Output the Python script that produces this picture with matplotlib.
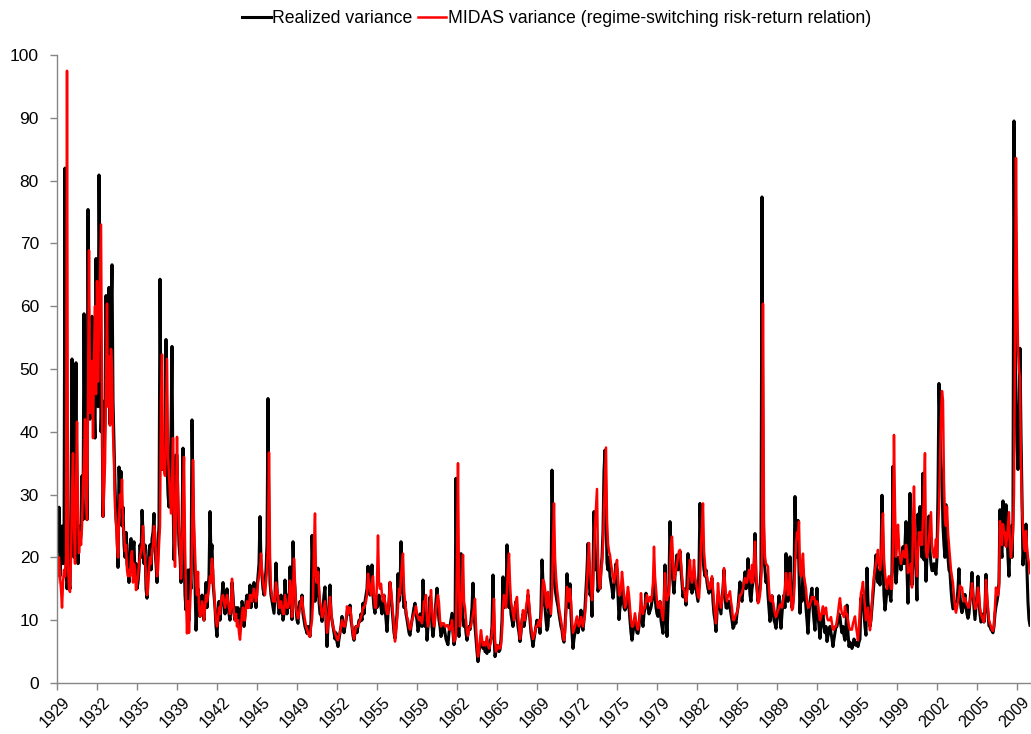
import matplotlib
matplotlib.use("Agg")
import matplotlib.pyplot as plt
import matplotlib.transforms as mtransforms
import numpy as np

plt.rcParams['font.family'] = ['Liberation Sans', 'DejaVu Sans']

# monthly values, jan 1929 .. feb 2010 (one row per year)
realized = [
    24, 21, 28, 17, 22, 25, 19, 20, 82, 18, 15, 17,            # 1929
    16, 15, 30, 51.6, 25, 20, 36, 51, 28, 19, 25, 22,          # 1930
    24, 33, 26, 58.8, 35, 45, 26, 75.4, 44, 42, 50, 58.4,      # 1931
    55.8, 45, 39, 67.6, 50, 44, 80.9, 62, 40, 45, 26.5, 35,    # 1932
    42, 61.7, 50, 45, 63, 41.2, 58, 66.6, 45, 38, 31.5, 26,    # 1933
    24, 18.4, 34.4, 30, 33.7, 25, 28, 22, 20, 24, 19, 18,      # 1934
    16, 22, 23, 18, 21, 22.5, 17, 19, 15, 16, 18, 22,          # 1935
    20, 27.5, 24, 19, 22, 15, 13.5, 18, 21, 22, 18, 23,        # 1936
    24, 27, 21, 19, 16, 22, 25, 64.3, 42, 34, 36, 38,          # 1937
    35, 54.7, 35, 30, 28, 32, 40, 53.6, 30, 19.6, 25, 36.3,    # 1938
    36.3, 28, 22, 20, 16, 24, 37.4, 22, 14, 11.6, 15, 18,      # 1939
    10, 18, 15, 41.9, 30, 21.7, 16, 8.4, 12, 15, 11, 10.6,     # 1940
    12, 14, 11, 10, 13, 16, 12, 15, 17, 27.3, 20, 22,          # 1941
    16, 14, 12, 9, 7.4, 11, 13, 10, 12, 14, 16, 13,            # 1942
    11, 13, 15, 12, 11, 10, 12, 16, 14, 11, 10, 12,            # 1943
    10, 12, 9, 11.6, 10, 13, 12, 9, 11, 13, 14, 12,            # 1944
    13, 15.6, 12, 14, 13, 16, 14, 12, 15, 17, 19, 26.5,        # 1945
    19, 17, 15, 14, 16, 18, 22, 45.3, 24, 16, 14, 13,          # 1946
    12, 11.1, 14, 19.1, 15, 13, 11, 12, 14, 12, 10, 11,        # 1947
    16.4, 13, 11, 14, 12, 18.5, 14, 10.1, 22.5, 17, 15, 12,    # 1948
    10, 9.5, 12, 13, 12, 14, 11, 10, 9, 8.5, 7.9, 9,           # 1949
    8, 7.4, 10, 23.5, 18, 15, 13, 14, 16, 18.3, 13, 11,        # 1950
    11, 9.8, 12, 14, 15.3, 10, 5.8, 9, 12, 15.6, 11, 10,       # 1951
    9, 8, 7, 8, 6.5, 5.8, 7, 8, 9, 10.6, 9, 8,                 # 1952
    9, 10, 11, 12, 11, 12.4, 10, 9, 7.5, 6.8, 8, 9,            # 1953
    8, 9, 10, 9.8, 11, 10, 12.7, 11, 13, 14, 15, 18.6,         # 1954
    15, 14, 16, 18.8, 14, 12, 11.1, 13, 12, 12.7, 14, 13,      # 1955
    12, 11, 13, 14, 12, 10, 8.2, 11, 13, 16, 14, 12,           # 1956
    10, 8, 7.1, 9, 11, 17.4, 13, 15, 22.5, 16, 14, 12,         # 1957
    13, 11, 10.1, 9, 8, 7.6, 9, 10, 11, 12, 12.7, 11,          # 1958
    10, 8.2, 9, 11, 10, 9, 16.4, 12, 9, 11, 6.8, 9,            # 1959
    11, 13.7, 12, 9, 7.4, 9, 11, 13, 15.1, 12, 10, 9,          # 1960
    7.4, 8, 9, 9, 8, 7, 6.5, 6.1, 8, 9, 10, 11.1,              # 1961
    8, 6.1, 7, 32.6, 14, 9, 7.4, 12, 20.6, 13, 10, 9,          # 1962
    10, 8, 6.8, 8, 9, 8.5, 10, 12, 15.9, 11, 9, 7,             # 1963
    5, 3.4, 5, 6, 7, 6.5, 5.5, 6, 5, 5, 4.7, 6,                # 1964
    5, 6.8, 7, 9, 17.2, 8, 4.2, 5, 6, 5.5, 5, 5.3,             # 1965
    7, 10, 16.9, 12, 14, 13, 22, 16, 12, 14, 11, 10,           # 1966
    9, 10, 12, 13, 11, 9, 8, 6.6, 8, 10, 11, 9,                # 1967
    10, 11, 12, 14, 12, 10, 8, 7, 5.8, 7, 8, 9,                # 1968
    10, 9, 10, 7.9, 12, 19.6, 16, 13, 12, 10, 8.4, 9,          # 1969
    12, 10.6, 14, 33.9, 22, 17, 15, 14, 13, 12.2, 11, 10,      # 1970
    9, 8.4, 7, 6.5, 9, 12, 17.4, 14, 12, 15.8, 11, 8,          # 1971
    5.5, 7, 8, 9, 10, 8, 9, 10, 11.6, 9, 8.4, 10,              # 1972
    12, 15, 18, 22.2, 17, 14, 15, 10.6, 18, 27.3, 22, 18,      # 1973
    20, 14.6, 16, 15, 18, 20, 24, 33.7, 37.1, 28, 19.1, 18,    # 1974
    20, 17, 16, 15, 13.5, 15, 17, 19, 18, 14, 10.1, 12,        # 1975
    13, 15, 14, 12, 11.6, 12, 13, 14, 12, 10, 8, 6.8,          # 1976
    8, 9, 10, 9, 8, 7.9, 9, 11, 12, 10, 9, 11,                 # 1977
    12, 14.3, 13, 12, 11, 11.5, 12, 13, 14, 16.9, 14, 12,      # 1978
    11, 10.6, 12, 13, 10, 9, 7.9, 12, 18.8, 11, 7.4, 12,       # 1979
    16, 25.7, 20, 18, 16, 14.3, 17, 19, 20.4, 18, 20, 21,      # 1980
    18, 16, 13.7, 15, 14, 12.4, 16, 20.6, 17, 15, 16, 14.3,    # 1981
    15, 17, 16, 15, 14, 13, 18, 28.6, 22, 24.9, 20, 18,        # 1982
    17, 18, 16, 15, 14.3, 15, 16, 16.7, 13, 11, 10, 8.2,       # 1983
    11, 14, 13, 12, 11, 13.7, 15, 18, 14, 12, 11.9, 13,        # 1984
    13, 12, 11, 10, 8.7, 9, 10, 9.5, 11, 12, 14, 16.1,         # 1985
    14, 13, 15, 16, 17.7, 15, 16, 19.8, 17, 14, 13, 15,        # 1986
    16, 18, 23.8, 17, 15, 13, 14, 15, 18, 77.4, 32, 20,        # 1987
    18, 16, 17, 14, 12, 9.8, 11, 13.9, 12, 10, 9.5, 8.7,       # 1988
    10, 12, 13.9, 11, 8.7, 11, 13, 14, 12, 20.6, 15, 13,       # 1989
    14, 20.1, 15, 12, 13, 16, 29.7, 22, 20, 25.9, 18, 11.1,    # 1990
    15, 13, 18, 16, 14.3, 12, 10, 7.9, 11, 13, 14, 15.1,       # 1991
    12, 10, 8.4, 12, 15.1, 11, 9, 7.1, 9, 10, 11, 9,           # 1992
    8, 9, 6.6, 7.5, 8.5, 9, 8, 7, 5.8, 7, 8, 9,                # 1993
    9, 10, 11, 10.5, 9, 8, 9, 7.5, 6.8, 9, 12.4, 8,            # 1994
    5.8, 6.5, 6, 5.5, 6, 7, 6.5, 6, 6.5, 5.8, 6.5, 7,          # 1995
    13.5, 12, 14, 11, 9, 7.6, 18.3, 13, 11, 9, 10, 12,         # 1996
    14, 16, 18, 20.4, 17, 16, 18, 15.6, 20, 29.9, 20, 14,      # 1997
    11.6, 13, 15, 14.3, 16, 14, 13, 18, 34.5, 24, 18, 15.9,    # 1998
    18, 20, 19, 20.1, 18, 20, 21.7, 19, 22, 25.7, 18, 12.7,    # 1999
    22, 30.2, 18, 15.6, 20, 25, 22, 18, 13.2, 26.9, 22, 28.1,  # 2000
    24, 20, 33.4, 19.6, 22, 16.2, 20, 22, 26.6, 21, 19, 17.9,  # 2001
    17.9, 19, 18, 17.3, 20, 30, 47.7, 40, 35, 32.2, 25, 22,    # 2002
    20, 28.4, 24, 20, 18, 17.6, 15, 13, 11.8, 12, 13, 12.9,    # 2003
    13, 15, 18.2, 14, 12, 11.2, 12, 13, 14.1, 12, 11, 10.3,    # 2004
    11, 13, 15, 17.6, 14, 12, 10.1, 12, 14, 17, 13, 11,        # 2005
    9.7, 10, 11, 9.7, 12, 17.3, 13, 11, 9.1, 9, 8.5, 8.3,      # 2006
    8, 9, 11, 12.2, 13, 14, 16, 27.6, 22, 20, 29, 24,          # 2007
    22, 28.4, 24, 20, 17, 22, 25, 20, 26, 89.5, 60, 45,        # 2008
    38, 34, 42, 53.3, 40, 30, 18.8, 22, 20, 25.3, 18, 12.9,    # 2009
    10.1, 9.2,                                                 # 2010
]

midas = [
    16, 19, 20, 17, 15, 12, 16, 18, 17, 20, 97.5, 19,          # 1929
    15, 14.5, 20, 30, 36.6, 25, 19, 30, 41.6, 28, 20.7, 24,    # 1930
    22, 25, 32, 35, 42, 30, 26, 45, 68.9, 43, 48, 51.3,        # 1931
    39, 52, 60, 46, 64, 48, 56, 65, 73, 45, 26.5, 30,          # 1932
    35, 48, 60.4, 44, 52, 41, 53.2, 50, 40, 35, 28, 25.9,      # 1933
    22, 20, 26, 30, 28, 32.4, 25, 24, 21, 22, 18, 17,          # 1934
    18, 17, 20, 21, 16, 19, 18, 14.8, 16, 17, 19, 20,          # 1935
    21, 22, 25, 21, 20, 17, 14, 15, 18, 20, 19, 21,            # 1936
    22, 25, 24, 20, 17, 18, 22, 25, 45, 52.3, 34, 34,          # 1937
    33, 42, 51.6, 36, 33, 30, 27, 32, 39, 25, 18.5, 28,        # 1938
    39.2, 30, 25, 22, 16.6, 20, 30, 36, 22, 14, 7.9, 13,       # 1939
    8, 12, 16, 22, 35.5, 25, 20.9, 15.9, 14, 17.7, 12, 10.6,   # 1940
    11, 13, 12, 10, 12, 14, 13, 14, 15, 17, 16, 19.8,          # 1941
    18, 15, 12, 10, 9, 10, 12, 11, 13, 13.7, 14, 13,           # 1942
    12, 13, 14, 13, 12, 11, 12, 16.6, 13, 11, 10, 11,          # 1943
    9, 10, 8, 6.9, 9, 11, 12, 10, 10, 12, 13, 12,              # 1944
    12, 14, 14, 13, 14, 15, 14, 13, 14, 16, 17, 18,            # 1945
    20.6, 18, 16, 15, 14, 16, 18, 22, 36.7, 20, 15, 14,        # 1946
    13, 13, 13, 16, 15, 14, 12, 12, 13, 12, 11, 11,            # 1947
    14, 13, 12, 12, 12.7, 16.3, 15, 10.5, 14, 19.8, 16, 12,    # 1948
    11, 10.3, 11, 12, 13, 13.7, 12, 11, 10, 9, 8.5, 8,         # 1949
    7.5, 7.4, 9, 10, 13, 22, 27, 17, 16, 17.7, 15, 13,         # 1950
    12, 10.5, 11, 12, 13, 11, 8, 9, 11, 13.7, 12, 10,          # 1951
    9, 8.5, 8, 7.5, 7, 6.8, 7.5, 8, 9, 10, 9.5, 9,             # 1952
    9, 10, 12.2, 11, 12, 12, 11, 9, 8, 7, 8, 9,                # 1953
    9, 9, 9.5, 10, 10.5, 11, 12, 12, 12.5, 13, 14, 17.4,       # 1954
    16, 15, 14, 16, 17, 14, 12, 12, 16, 23.5, 16, 15,          # 1955
    15.8, 14, 13, 14, 13, 12, 11, 11, 13, 16.1, 15, 13,        # 1956
    11, 9, 6.6, 8, 10, 12, 15, 14, 17, 19, 20.6, 15,           # 1957
    13, 11.6, 10.5, 10, 9, 8.5, 9, 10, 10.5, 11, 11.5, 12.2,   # 1958
    11, 10.5, 10, 10.5, 10, 9.5, 11, 13, 13, 14, 10, 9,        # 1959
    10, 12, 14.8, 12, 10, 9, 10, 12, 13, 14, 12.7, 10,         # 1960
    9, 9.5, 9.5, 9.5, 9, 9, 9.2, 9.2, 8.5, 8.5, 9, 10,         # 1961
    8, 6.6, 7, 8, 20, 35, 15, 9, 11, 16, 20.4, 13,             # 1962
    12, 10, 8, 7.5, 8.5, 9, 9, 10, 11, 12, 13.4, 9,            # 1963
    6, 4.2, 5, 7, 8.4, 7, 6, 6.5, 6, 6.5, 7.4, 6,              # 1964
    5.5, 6, 6.5, 8, 10, 13.4, 7, 5, 5.5, 6, 5.5, 5.5,          # 1965
    6, 8, 12.2, 14, 13, 12, 15, 18, 20.6, 16, 13, 12,          # 1966
    11, 10, 12, 13, 13.7, 11, 9, 7, 8, 10, 11.6, 10,           # 1967
    10, 12, 13, 14.8, 13, 11, 9, 8, 7, 7.5, 8, 9,              # 1968
    9, 9.5, 10, 9, 10, 13, 16.4, 16.1, 15, 13, 12, 14.5,       # 1969
    13, 12, 11, 14, 22, 28.6, 20, 17, 15, 13.7, 12, 11,        # 1970
    10, 9, 7.5, 6.8, 8, 11, 15.3, 14, 13, 15, 13, 10,          # 1971
    8, 8.5, 9, 10, 10.6, 9.5, 9, 9.5, 10.5, 10, 9, 10,         # 1972
    11, 13, 16, 19, 22.3, 18, 16, 13.2, 15, 20, 25, 28,        # 1973
    30.9, 20, 16, 15, 17.5, 19, 22, 27, 32, 37.5, 26, 22.2,    # 1974
    21, 20.4, 19, 18, 17, 16, 17, 18, 19.6, 17, 14, 14,        # 1975
    15, 17.7, 16, 14, 12, 12.5, 14, 15.3, 14, 12, 10, 9,       # 1976
    9, 10, 11.1, 10, 9, 8.5, 9.5, 11, 14.3, 12, 11, 12,        # 1977
    12, 13, 14, 13, 13, 13.7, 13, 14, 16, 21.7, 17, 15,        # 1978
    13, 12, 12, 13, 12, 11, 10, 13, 17.5, 15, 13.2, 14,        # 1979
    14, 18, 22, 23.3, 20, 16.4, 17, 18, 19, 20, 21, 21.2,      # 1980
    19, 17, 15, 15, 14, 13, 14, 16, 18, 19.6, 17, 16,          # 1981
    17, 19.6, 17, 16, 15, 14, 13.5, 16, 22, 25, 28.6, 21,      # 1982
    19, 17, 17, 16, 15, 15, 16, 17, 15, 13, 11, 9.5,           # 1983
    12, 15.9, 14, 13, 12, 13, 15, 18.3, 16, 14, 13, 14,        # 1984
    14, 14.6, 13, 12, 10.1, 10, 10.5, 11, 11.1, 12, 13, 14,    # 1985
    14, 14.5, 15, 16, 16.7, 16, 16, 17, 18, 17, 16, 18.8,      # 1986
    16, 19, 22.5, 18, 15, 12.7, 13, 14, 16, 20, 60.4, 25,      # 1987
    20.1, 19, 18.8, 18.5, 15, 13.2, 13, 13.9, 13, 12, 11, 10.5,  # 1988
    11, 11.5, 12, 12.5, 12.5, 12, 13, 14, 15, 17.5, 16, 14,    # 1989
    15, 17.5, 14, 11.6, 12, 14, 18, 22, 24, 23, 25.7, 18,      # 1990
    17, 19, 20.6, 17, 16, 15, 13, 12.2, 12, 12.5, 13, 13.7,    # 1991
    13.5, 13.7, 13, 12.5, 13, 12.5, 11, 10, 10.5, 11.5, 12.2, 11,  # 1992
    11, 12, 10.5, 10, 10, 10, 10.5, 9.5, 8.5, 8.5, 9, 9,       # 1993
    10, 11, 12.5, 13.5, 12, 11, 11, 10.5, 12.2, 11, 11, 10,    # 1994
    9, 8.5, 8.5, 8.5, 9.5, 10, 10.6, 9, 8, 6.8, 9, 12,         # 1995
    14.3, 15, 16.1, 14, 12, 10, 11, 12, 10, 8.4, 10, 13,       # 1996
    15.3, 17, 18, 19, 20, 21.2, 19, 18, 19, 24, 27, 20,        # 1997
    17.5, 16, 15, 16.4, 17, 16, 15, 15, 22, 39.5, 28, 20.1,    # 1998
    22, 25.2, 22, 20, 19, 20, 21, 20.5, 20, 22, 21, 17.5,      # 1999
    18, 17.9, 19, 15.2, 25, 31.3, 24, 20, 17, 20, 24, 22,      # 2000
    24, 22, 26, 30, 36.6, 21.1, 20, 21, 23, 25, 27.2, 22,      # 2001
    21, 20, 21, 22.9, 20, 24, 28, 35, 42, 46.5, 45, 32,        # 2002
    26, 25, 28.1, 24, 22, 20.2, 18, 17, 15.9, 14, 12, 11.2,    # 2003
    12, 13, 14, 15.5, 15, 15.2, 14, 13, 13.5, 13, 12.5, 12.2,  # 2004
    12, 13, 14, 15.9, 14.5, 13, 11.8, 12, 13, 15.2, 14, 12,    # 2005
    11, 10.5, 10, 9.7, 12, 16.4, 14, 12, 10, 9.5, 9, 8.5,      # 2006
    8.3, 9, 12, 15.2, 14, 14, 15, 25.8, 24, 22, 25.3, 24,      # 2007
    24, 21.7, 23, 25, 27.2, 22, 20, 22, 24, 30, 55, 83.6,      # 2008
    65, 53.3, 50, 48.6, 35.3, 28, 24.7, 22, 21, 24.2, 21.7, 20,  # 2009
    19, 17.5,                                                  # 2010
]

tick_labels = ['1929', '1932', '1935', '1939', '1942', '1945', '1949', '1952',
               '1955', '1959', '1962', '1965', '1969', '1972', '1975', '1979',
               '1982', '1985', '1989', '1992', '1995', '1999', '2002', '2005',
               '2009']
tick_step = 40  # months between labels

months = np.arange(len(realized))

fig = plt.figure(figsize=(10.31, 7.34), dpi=100)
ax = fig.add_axes([0.0553, 0.0695, 0.9437, 0.8555])

l1, = ax.plot(months, realized, color='black', lw=2.2, label='Realized variance')
l2, = ax.plot(np.arange(len(midas)), midas, color='#ff0000', lw=1.8,
              label='MIDAS variance (regime-switching risk-return relation)')

ax.set_xlim(0, len(realized) - 1)
ax.set_ylim(0, 100)
ax.set_yticks(np.arange(0, 101, 10))
ax.set_xticks(np.arange(len(tick_labels)) * tick_step)
ax.set_xticklabels(tick_labels, rotation=45, ha='right', va='top',
                   rotation_mode='anchor')

for s in ['top', 'right']:
    ax.spines[s].set_visible(False)
for s in ['left', 'bottom']:
    ax.spines[s].set_color('#868686')
    ax.spines[s].set_linewidth(1.0)
ax.tick_params(axis='both', direction='out', length=5, color='#868686',
               width=1.0)
ax.tick_params(axis='y', pad=8, labelsize=12.5)
ax.tick_params(axis='x', pad=3, labelsize=11.5)

# nudge the rotated year labels a bit to the right, like the original
shift = mtransforms.ScaledTranslation(5 / 100, 0, fig.dpi_scale_trans)
for lab in ax.get_xticklabels():
    lab.set_transform(lab.get_transform() + shift)

fig.legend(handles=[l1, l2], loc='upper center', bbox_to_anchor=(0.54, 1.008),
           ncol=2, frameon=False, fontsize=12.7, handlelength=1.6,
           handletextpad=0.1, columnspacing=0.3)

fig.savefig('out.png', dpi=100)
